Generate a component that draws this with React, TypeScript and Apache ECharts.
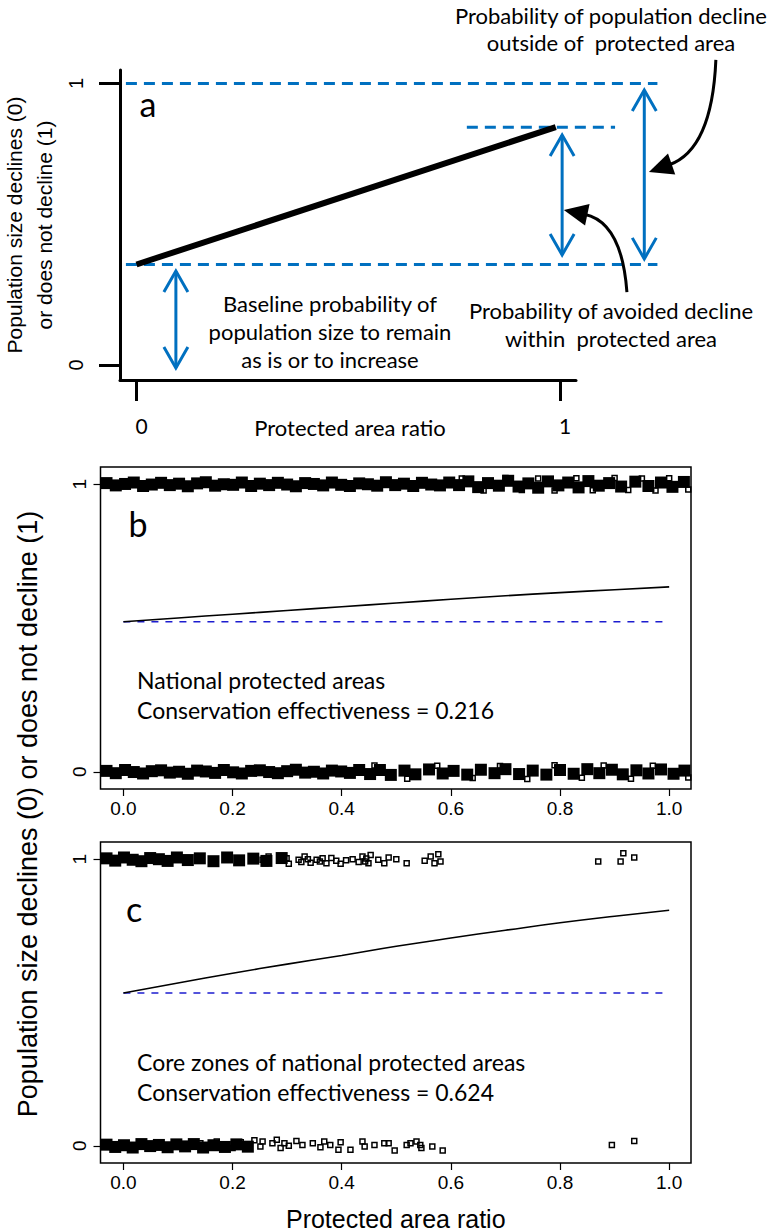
import React, { useEffect, useRef } from "react";
import * as echarts from "echarts";

// ---------- Panel a (schematic) ----------
const aTickValues = [0, 1];
const aFitX = [0, 0.99];
const aFitY = [0.357, 0.845];
const aBaseline = 0.357;
const aOutside = 1.0;
const aWithin = 0.845;
const aLongDashX = [-0.025, 1.23];
const aShortDashX = [0.78, 1.13];
// [x, yFrom, yTo]
const aDoubleArrows = [
  [1.005, 0.817, 0.391],
  [1.199, 0.977, 0.377],
  [0.093, 0.334, -0.011],
];
// [startX, startY, controlX, controlY, tipX, tipY]
const aCurvedArrows = [
  [1.368, 1.084, 1.359, 0.764, 1.21, 0.686],
  [1.158, 0.259, 1.146, 0.508, 1.009, 0.551],
];

// ---------- Panels b and c ----------
const xTicks = [0, 0.2, 0.4, 0.6, 0.8, 1.0];
const yTicks = [0, 1];
const fitX = [0, 0.1, 0.2, 0.3, 0.4, 0.5, 0.6, 0.7, 0.8, 0.9, 1.0];
const bFit = [0.522, 0.535, 0.548, 0.561, 0.574, 0.587, 0.6, 0.612, 0.623, 0.633, 0.643];
const cFit = [0.533, 0.568, 0.602, 0.634, 0.664, 0.696, 0.725, 0.752, 0.778, 0.801, 0.822];
const bBaseline = 0.522;
const cBaseline = 0.533;
const baselineX = [0, 0.99];

const bTopDense = [
  [-0.031, 1.004], [-0.014, 0.996], [0.003, 1.001], [0.019, 1.006], [0.036, 0.994], [0.052, 0.999],
  [0.069, 1.005], [0.085, 0.997], [0.102, 1.002], [0.118, 0.993], [0.135, 1.003], [0.151, 1.007],
  [0.168, 0.995], [0.184, 1.0], [0.201, 0.998], [0.217, 1.006], [0.234, 0.994], [0.25, 1.002],
  [0.267, 0.997], [0.283, 1.005], [0.3, 0.999], [0.316, 0.993], [0.333, 1.004], [0.349, 1.001],
  [0.366, 0.996], [0.382, 1.006], [0.399, 0.998], [0.415, 0.994], [0.432, 1.003], [0.448, 1.0],
  [0.465, 0.995], [0.481, 1.007], [0.498, 0.997], [0.514, 1.002], [0.531, 0.994], [0.547, 1.005],
  [0.564, 0.999], [0.58, 0.996], [0.597, 1.006], [0.615, 0.997], [0.632, 1.01], [0.65, 0.99],
  [0.668, 1.004], [0.688, 0.995], [0.705, 1.012], [0.724, 0.992], [0.742, 1.003], [0.76, 0.988],
  [0.778, 1.01], [0.797, 0.996], [0.815, 1.006], [0.834, 0.989], [0.852, 1.011], [0.871, 0.995],
  [0.89, 1.004], [0.912, 0.992], [0.938, 1.009], [0.962, 0.994], [0.985, 1.006], [1.006, 0.991],
  [1.027, 1.008],
];
const bTopSparse = [
  [0.62, 1.02], [0.66, 0.978], [0.7, 1.022], [0.73, 0.98], [0.76, 1.02], [0.79, 0.978],
  [0.83, 1.021], [0.86, 0.979], [0.9, 1.022], [0.925, 0.98], [0.95, 1.02], [0.975, 0.978],
  [1.0, 1.021], [1.035, 0.982],
];
const bBottomDense = [
  [-0.031, 0.003], [-0.014, -0.005], [0.003, 0.006], [0.019, -0.001], [0.036, -0.006], [0.052, 0.002],
  [0.069, 0.005], [0.085, -0.003], [0.102, 0.0], [0.118, -0.007], [0.135, 0.004], [0.151, 0.001],
  [0.168, -0.004], [0.184, 0.006], [0.201, -0.002], [0.217, -0.006], [0.234, 0.003], [0.25, 0.005],
  [0.267, -0.001], [0.283, -0.005], [0.3, 0.002], [0.316, 0.007], [0.333, -0.003], [0.349, 0.0],
  [0.366, -0.006], [0.382, 0.004], [0.399, 0.001], [0.415, -0.004], [0.432, 0.006], [0.452, -0.008],
  [0.47, 0.006], [0.49, -0.011], [0.515, 0.004], [0.535, -0.009], [0.56, 0.008], [0.585, -0.006],
  [0.605, 0.003], [0.63, -0.01], [0.655, 0.007], [0.68, -0.005], [0.7, 0.009], [0.725, -0.008],
  [0.75, 0.004], [0.775, -0.01], [0.8, 0.006], [0.825, -0.007], [0.85, 0.009], [0.872, -0.005],
  [0.895, 0.007], [0.915, -0.009], [0.94, 0.005], [0.962, -0.006], [0.985, 0.008], [1.008, -0.007],
  [1.028, 0.004],
];
const bBottomSparse = [
  [0.46, 0.022], [0.52, -0.024], [0.575, 0.021], [0.64, -0.022], [0.69, 0.02], [0.74, -0.025],
  [0.79, 0.023], [0.84, -0.021], [0.88, 0.022], [0.93, -0.024], [0.97, 0.021], [1.035, -0.02],
];
const cTopDense = [
  [-0.031, 1.003], [-0.015, 0.995], [0.001, 1.006], [0.017, 0.998], [0.033, 0.993], [0.049, 1.004],
  [0.065, 1.0], [0.081, 0.994], [0.098, 1.006], [0.118, 0.997], [0.14, 1.003], [0.165, 0.993],
  [0.19, 1.006], [0.212, 0.996], [0.238, 1.002], [0.262, 0.994], [0.29, 1.004],
];
const cTopSparse = [
  [0.255, 0.998], [0.266, 1.009], [0.26, 0.986], [0.288, 0.995], [0.299, 1.003], [0.303, 0.984],
  [0.321, 0.998], [0.326, 0.99], [0.332, 1.009], [0.338, 1.0], [0.343, 0.988], [0.354, 0.998],
  [0.36, 0.992], [0.365, 1.003], [0.372, 0.986], [0.381, 1.004], [0.39, 0.995], [0.398, 0.984],
  [0.408, 0.996], [0.42, 1.0], [0.431, 0.99], [0.438, 1.009], [0.443, 0.992], [0.445, 1.002],
  [0.449, 0.986], [0.453, 1.015], [0.467, 0.998], [0.478, 0.986], [0.486, 1.006], [0.5, 1.0],
  [0.519, 0.986], [0.552, 0.995], [0.563, 1.009], [0.57, 0.986], [0.577, 1.017], [0.581, 0.992],
  [0.87, 0.992], [0.911, 0.992], [0.916, 1.021], [0.936, 1.006],
];
const cBottomDense = [
  [-0.031, 0.004], [-0.015, -0.004], [0.001, 0.002], [0.017, -0.006], [0.033, 0.006], [0.049, -0.001],
  [0.065, 0.003], [0.081, -0.005], [0.097, 0.005], [0.113, -0.002], [0.129, 0.006], [0.146, -0.006],
  [0.165, 0.002], [0.186, -0.004], [0.207, 0.005], [0.228, -0.003],
];
const cBottomSparse = [
  [0.141, 0.009], [0.156, -0.005], [0.171, 0.015], [0.185, 0.003], [0.2, -0.008], [0.215, 0.012],
  [0.229, 0.0], [0.24, 0.019], [0.251, -0.002], [0.255, 0.015], [0.273, 0.009], [0.281, 0.021],
  [0.288, -0.008], [0.295, 0.009], [0.303, 0.0], [0.317, 0.017], [0.328, 0.003], [0.347, 0.009],
  [0.361, -0.005], [0.368, 0.015], [0.379, 0.003], [0.394, -0.014], [0.398, 0.012], [0.416, -0.014],
  [0.438, 0.015], [0.442, -0.002], [0.46, 0.003], [0.478, 0.009], [0.486, 0.009], [0.497, -0.016],
  [0.519, 0.003], [0.526, 0.009], [0.537, 0.015], [0.544, 0.003], [0.546, -0.008], [0.566, -0.002],
  [0.585, -0.016], [0.895, 0.003], [0.936, 0.017],
];

const CAL = "Lato, 'Open Sans', sans-serif";
const ARI = "'Liberation Sans', Arial, Helvetica, sans-serif";
const BLUE = "#0070C0";
const DASHBLUE = "#1c1ccf";

function renderDoubleArrow(_p: any, api: any) {
  const x = api.value(0);
  const pa = api.coord([x, api.value(1)]);
  const pb = api.coord([x, api.value(2)]);
  const top = pa[1] < pb[1] ? pa : pb;
  const bot = pa[1] < pb[1] ? pb : pa;
  const hw = 12;
  const hl = 21;
  const st = { stroke: BLUE, lineWidth: 3, fill: "none" };
  return {
    type: "group",
    children: [
      { type: "line", shape: { x1: top[0], y1: top[1], x2: bot[0], y2: bot[1] }, style: st },
      { type: "polyline", shape: { points: [[top[0] - hw, top[1] + hl], [top[0], top[1]], [top[0] + hw, top[1] + hl]] }, style: st },
      { type: "polyline", shape: { points: [[bot[0] - hw, bot[1] - hl], [bot[0], bot[1]], [bot[0] + hw, bot[1] - hl]] }, style: st },
    ],
  };
}

function renderCurvedArrow(_p: any, api: any) {
  const s = api.coord([api.value(0), api.value(1)]);
  const c = api.coord([api.value(2), api.value(3)]);
  const t = api.coord([api.value(4), api.value(5)]);
  const dx = t[0] - c[0];
  const dy = t[1] - c[1];
  const len = Math.hypot(dx, dy) || 1;
  const ux = dx / len;
  const uy = dy / len;
  const L = 24;
  const W = 11;
  const bx = t[0] - ux * L;
  const by = t[1] - uy * L;
  return {
    type: "group",
    children: [
      {
        type: "bezierCurve",
        shape: { x1: s[0], y1: s[1], x2: bx + ux * 3, y2: by + uy * 3, cpx1: c[0], cpy1: c[1] },
        style: { stroke: "#000", lineWidth: 3, fill: "none" },
      },
      {
        type: "polygon",
        shape: { points: [[t[0], t[1]], [bx - uy * W, by + ux * W], [bx + uy * W, by - ux * W]] },
        style: { fill: "#000" },
      },
    ],
  };
}

function txt(text: string, x: number, y: number, fontSize: number, family: string, rotation = 0, align = "center") {
  return {
    type: "text",
    x,
    y,
    rotation,
    style: {
      text,
      fontSize,
      fontFamily: family,
      fill: "#000",
      textAlign: align,
      textVerticalAlign: "middle",
      align,
      verticalAlign: "middle",
    },
  };
}

function panelAxes(gridIndex: number, withName: boolean) {
  const x: any = {
    type: "value",
    gridIndex,
    min: -0.042,
    max: 1.04,
    axisLine: { show: false, onZero: false },
    splitLine: { show: false },
    axisTick: { show: true, customValues: xTicks, length: 7, lineStyle: { color: "#000", width: 1.2 } },
    axisLabel: {
      show: true,
      customValues: xTicks,
      formatter: (v: number) => v.toFixed(1),
      fontSize: 19,
      fontFamily: ARI,
      color: "#000",
      margin: 10,
    },
  };
  if (withName) {
    Object.assign(x, {
      name: "Protected area ratio",
      nameLocation: "middle",
      nameGap: 43,
      nameTextStyle: { fontSize: 25, fontFamily: ARI, color: "#000" },
    });
  }
  const y: any = {
    type: "value",
    gridIndex,
    min: -0.06,
    max: 1.06,
    axisLine: { show: false, onZero: false },
    splitLine: { show: false },
    axisTick: { show: true, customValues: yTicks, length: 7, lineStyle: { color: "#000", width: 1.2 } },
    axisLabel: {
      show: true,
      customValues: yTicks,
      rotate: 90,
      fontSize: 19,
      fontFamily: ARI,
      color: "#000",
      margin: 12,
    },
  };
  return { x, y };
}

function panelSeries(
  axisIndex: number,
  topDense: number[][],
  topSparse: number[][],
  bottomDense: number[][],
  bottomSparse: number[][],
  fit: number[],
  base: number
) {
  const dense = {
    type: "scatter",
    xAxisIndex: axisIndex,
    yAxisIndex: axisIndex,
    symbol: "rect",
    symbolSize: 12,
    itemStyle: { color: "#000", opacity: 1 },
    data: [...topDense, ...bottomDense],
    silent: true,
  };
  const sparse = {
    type: "scatter",
    xAxisIndex: axisIndex,
    yAxisIndex: axisIndex,
    symbol: "rect",
    symbolSize: 5,
    itemStyle: { color: "rgba(255,255,255,0)", borderColor: "#000", borderWidth: 1.5, opacity: 1 },
    data: [...topSparse, ...bottomSparse],
    silent: true,
  };
  const fitLine = {
    type: "line",
    xAxisIndex: axisIndex,
    yAxisIndex: axisIndex,
    smooth: true,
    showSymbol: false,
    lineStyle: { color: "#000", width: 1.6 },
    data: fitX.map((x, i) => [x, fit[i]]),
    z: 5,
  };
  const baseLine = {
    type: "line",
    xAxisIndex: axisIndex,
    yAxisIndex: axisIndex,
    showSymbol: false,
    lineStyle: { color: DASHBLUE, width: 1.5, type: [7, 7] },
    data: baselineX.map((x) => [x, base]),
    z: 4,
  };
  return [dense, sparse, baseLine, fitLine];
}

export default function App() {
  const ref = useRef<HTMLDivElement>(null);

  useEffect(() => {
    if (!ref.current) return;
    const chart = echarts.init(ref.current, undefined, { renderer: "svg" });
    const pb = panelAxes(2, false);
    const pc = panelAxes(3, true);

    const option: any = {
      animation: false,
      backgroundColor: "#fff",
      grid: [
        { left: 120, top: 70, width: 456, height: 310 },
        { left: 0, top: 0, width: 768, height: 450 },
        { left: 100.5, top: 467, width: 590.5, height: 322, show: true, borderColor: "#000", borderWidth: 1.5, backgroundColor: "transparent" },
        { left: 100.5, top: 842, width: 590.5, height: 321, show: true, borderColor: "#000", borderWidth: 1.5, backgroundColor: "transparent" },
      ],
      xAxis: [
        {
          type: "value",
          gridIndex: 0,
          min: -0.03896,
          max: 1.0378,
          axisLine: { show: true, onZero: false, lineStyle: { color: "#000", width: 3 } },
          splitLine: { show: false },
          axisTick: { show: true, customValues: aTickValues, length: 21, lineStyle: { color: "#000", width: 3 } },
          axisLabel: { show: true, customValues: aTickValues, fontSize: 21, fontFamily: CAL, color: "#000", margin: 35, padding: [0, 0, 0, 10] },
        },
        { type: "value", gridIndex: 1, min: -0.3223, max: 1.4911, show: false },
        pb.x,
        pc.x,
      ],
      yAxis: [
        {
          type: "value",
          gridIndex: 0,
          min: -0.05329,
          max: 1.04796,
          axisLine: { show: true, onZero: false, lineStyle: { color: "#000", width: 3 } },
          splitLine: { show: false },
          axisTick: { show: true, customValues: aTickValues, length: 21, lineStyle: { color: "#000", width: 3 } },
          axisLabel: { show: true, customValues: aTickValues, rotate: 90, fontSize: 20, fontFamily: ARI, color: "#000", margin: 34 },
        },
        { type: "value", gridIndex: 1, min: -0.30195, max: 1.2966, show: false },
        pb.y,
        pc.y,
      ],
      series: [
        {
          type: "line",
          xAxisIndex: 0,
          yAxisIndex: 0,
          showSymbol: false,
          lineStyle: { color: "#000", width: 6 },
          data: aFitX.map((x, i) => [x, aFitY[i]]),
          z: 6,
        },
        {
          type: "line",
          xAxisIndex: 1,
          yAxisIndex: 1,
          showSymbol: false,
          lineStyle: { color: BLUE, width: 3, type: [11, 7] },
          data: aLongDashX.map((x) => [x, aOutside]),
        },
        {
          type: "line",
          xAxisIndex: 1,
          yAxisIndex: 1,
          showSymbol: false,
          lineStyle: { color: BLUE, width: 3, type: [11, 7] },
          data: aLongDashX.map((x) => [x, aBaseline]),
        },
        {
          type: "line",
          xAxisIndex: 1,
          yAxisIndex: 1,
          showSymbol: false,
          lineStyle: { color: BLUE, width: 3, type: [11, 7] },
          data: aShortDashX.map((x) => [x, aWithin]),
        },
        {
          type: "custom",
          coordinateSystem: "cartesian2d",
          xAxisIndex: 1,
          yAxisIndex: 1,
          renderItem: renderDoubleArrow,
          data: aDoubleArrows,
          z: 7,
        },
        {
          type: "custom",
          coordinateSystem: "cartesian2d",
          xAxisIndex: 1,
          yAxisIndex: 1,
          renderItem: renderCurvedArrow,
          data: aCurvedArrows,
          z: 7,
        },
        ...panelSeries(2, bTopDense, bTopSparse, bBottomDense, bBottomSparse, bFit, bBaseline),
        ...panelSeries(3, cTopDense, cTopSparse, cBottomDense, cBottomSparse, cFit, cBaseline),
      ],
      graphic: [
        txt("Probability of population decline", 611, 15, 22, CAL),
        txt("outside of  protected area", 611, 42, 22, CAL),
        txt("Baseline probability of", 330, 303, 22, CAL),
        txt("population size to remain", 330, 331, 22, CAL),
        txt("as is or to increase", 330, 359, 22, CAL),
        txt("Probability of avoided decline", 611, 310, 22, CAL),
        txt("within  protected area", 611, 338, 22, CAL),
        txt("a", 148, 103, 34, CAL),
        txt("Protected area ratio", 350, 427, 22, CAL),
        txt("Population size declines (0)", 14, 225, 21, ARI, Math.PI / 2),
        txt("or does not decline (1)", 44, 225, 21, ARI, Math.PI / 2),
        txt("b", 138, 523, 34, CAL),
        txt("National protected areas", 137, 680, 23, CAL, 0, "left"),
        txt("Conservation effectiveness = 0.216", 137, 710, 23, CAL, 0, "left"),
        txt("c", 134, 908, 34, CAL),
        txt("Core zones of national protected areas", 137, 1062, 23, CAL, 0, "left"),
        txt("Conservation effectiveness = 0.624", 137, 1092, 23, CAL, 0, "left"),
        txt("Population size declines (0) or does not decline (1)", 28, 814, 27, ARI, Math.PI / 2),
      ],
    };
    chart.setOption(option);
    return () => chart.dispose();
  }, []);

  return (
    <div
      ref={ref}
      style={{ position: "absolute", left: 0, top: 0, width: 768, height: 1232, background: "#fff" }}
    />
  );
}
